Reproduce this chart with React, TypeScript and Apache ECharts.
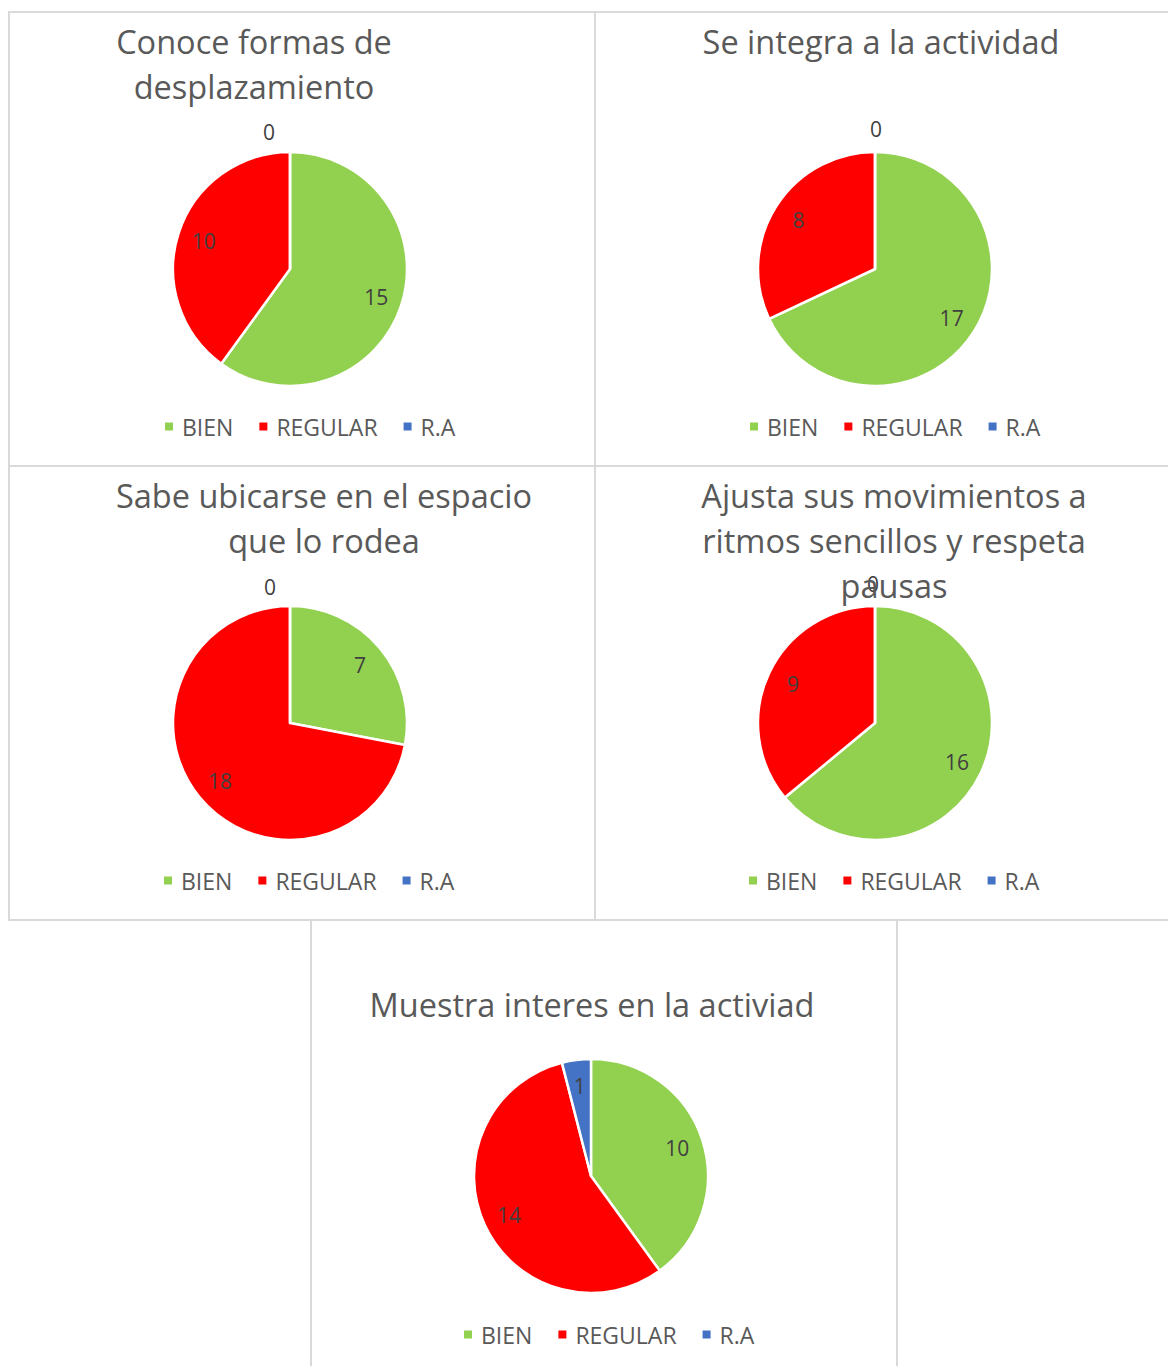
import React, { useEffect, useRef } from "react";
import * as echarts from "echarts";

const categories = ["BIEN", "REGULAR", "R.A"];
const chartTitles = [
  "Conoce formas de\ndesplazamiento",
  "Se integra a la actividad",
  "Sabe ubicarse en el espacio\nque lo rodea",
  "Ajusta sus movimientos a\nritmos sencillos y respeta\npausas",
  "Muestra interes en la activiad",
];
const bienValues = [15, 17, 7, 16, 10];
const regularValues = [10, 8, 18, 9, 14];
const raValues = [0, 0, 0, 0, 1];

const colors = ["#92D050", "#FF0000", "#4472C4"];

const panels = [
  { box: [9, 12, 586, 454], cx: 290, cy: 269, tx: 254, ty: 41, lx: 163, ly: 426, zdx: -10, zdy: -10 },
  { box: [595, 12, 590, 454], cx: 875, cy: 269, tx: 881, ty: 41, lx: 748, ly: 426, zdx: -10, zdy: -13 },
  { box: [9, 466, 586, 454], cx: 290, cy: 723, tx: 324, ty: 495, lx: 162, ly: 880, zdx: -31, zdy: -9 },
  { box: [595, 466, 590, 454], cx: 875, cy: 723, tx: 894, ty: 495, lx: 747, ly: 880, zdx: 9, zdy: -12 },
  { box: [311, 920, 586, 460], cx: 591, cy: 1176, tx: 592, ty: 1004, lx: 462, ly: 1334, zdx: 0, zdy: 0 },
];

const R = 117;
const FONT = "'Open Sans', 'Noto Sans', sans-serif";

export default function App() {
  const ref = useRef<HTMLDivElement>(null);
  useEffect(() => {
    document.body.style.margin = "0";
    const chart = echarts.init(ref.current!, null, { renderer: "svg" });
    const title: any[] = [];
    const legend: any[] = [];
    const series: any[] = [];
    const graphic: any[] = [];
    panels.forEach((p, i) => {
      const vals = [bienValues[i], regularValues[i], raValues[i]];
      graphic.push({
        type: "rect",
        shape: { x: p.box[0], y: p.box[1], width: p.box[2], height: p.box[3] },
        style: { fill: "none", stroke: "#d9d9d9", lineWidth: 2 },
        z: -1,
      });
      title.push({
        text: chartTitles[i],
        left: p.tx,
        top: p.ty - 22.5,
        textAlign: "center",
        padding: 0,
        textStyle: {
          fontFamily: FONT,
          fontSize: 32.5,
          lineHeight: 45,
          fontWeight: "normal",
          color: "#595959",
        },
      });
      legend.push({
        data: categories,
        left: p.lx,
        top: p.ly - 11,
        padding: 0,
        icon: "rect",
        itemWidth: 10,
        itemHeight: 10,
        itemGap: 24,
        selectedMode: false,
        textStyle: {
          fontFamily: FONT,
          fontSize: 23,
          lineHeight: 22,
          color: "#595959",
          padding: [0, 0, 0, 3],
        },
      });
      series.push({
        type: "pie",
        center: [p.cx, p.cy],
        radius: [0, R],
        startAngle: 90,
        clockwise: true,
        silent: true,
        label: { show: false },
        labelLine: { show: false },
        itemStyle: { borderColor: "#ffffff", borderWidth: 2.5 },
        data: categories.map((c, k) => ({
          name: c,
          value: vals[k],
          itemStyle: { color: colors[k] },
        })),
      });
      series.push({
        type: "pie",
        center: [p.cx, p.cy],
        radius: [R / 2, R],
        startAngle: 90,
        clockwise: true,
        silent: true,
        avoidLabelOverlap: false,
        labelLine: { show: false, length: 10, length2: 0 },
        itemStyle: { color: "rgba(0,0,0,0)" },
        labelLayout: (params: any) =>
          vals[params.dataIndex] === 0 ? { dx: p.zdx, dy: p.zdy } : {},
        data: categories.map((c, k) => ({
          name: c,
          value: vals[k],
          itemStyle: { color: "rgba(0,0,0,0)" },
          label: {
            show: true,
            position: vals[k] === 0 ? "outside" : "inside",
            formatter: String(vals[k]),
            fontFamily: FONT,
            fontSize: 21,
            color: "#404040",
          },
        })),
      });
    });
    chart.setOption({
      animation: false,
      backgroundColor: "#ffffff",
      title,
      legend,
      series,
      graphic,
    });
    return () => chart.dispose();
  }, []);
  return (
    <div
      ref={ref}
      style={{ position: "absolute", left: 0, top: 0, width: 1168, height: 1366 }}
    />
  );
}
